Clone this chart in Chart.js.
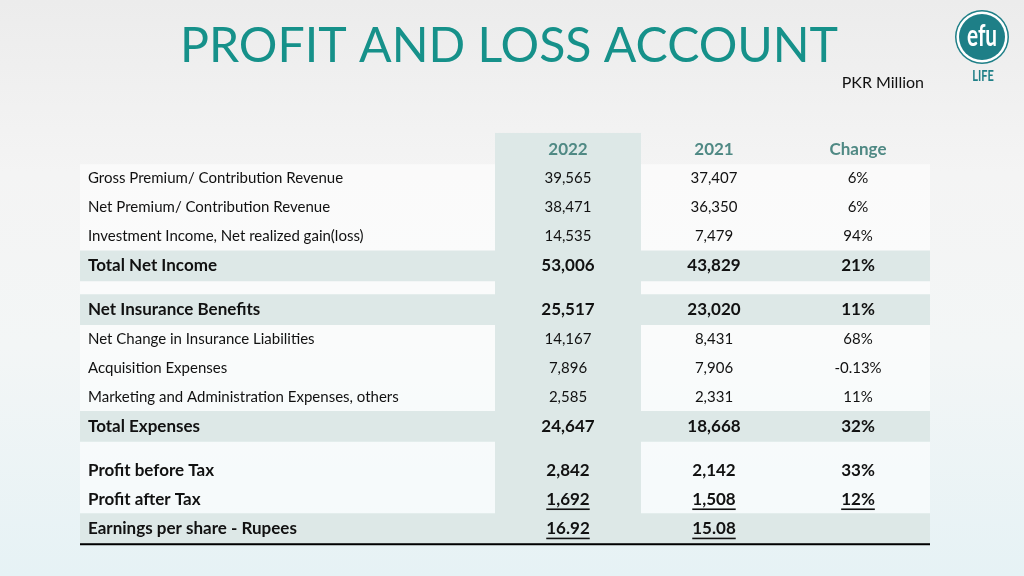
<!DOCTYPE html>
<html>
<head>
<meta charset="utf-8">
<script src="https://cdn.jsdelivr.net/npm/chart.js@4.4.1/dist/chart.umd.min.js"></script>
<style>
  html, body { margin: 0; padding: 0; width: 1024px; height: 576px; overflow: hidden; }
  body { background: linear-gradient(180deg, #ececec 0%, #f4f4f4 30%, #f3f6f6 60%, #e6f2f5 100%); }
  canvas { display: block; }
</style>
</head>
<body>
<canvas id="c" width="1024" height="576"></canvas>
<script>
// ---- data ----
const columnHeaders = ['2022', '2021', 'Change'];
const rowLabels = [
  'Gross Premium/ Contribution Revenue',
  'Net Premium/ Contribution Revenue',
  'Investment Income, Net realized gain(loss)',
  'Total Net Income',
  'Net Insurance Benefits',
  'Net Change in Insurance Liabilities',
  'Acquisition Expenses',
  'Marketing and Administration Expenses, others',
  'Total Expenses',
  'Profit before Tax',
  'Profit after Tax',
  'Earnings per share - Rupees'
];
const values2022 = [39565, 38471, 14535, 53006, 25517, 14167, 7896, 2585, 24647, 2842, 1692, 16.92];
const values2021 = [37407, 36350, 7479, 43829, 23020, 8431, 7906, 2331, 18668, 2142, 1508, 15.08];
const changePct  = [6, 6, 94, 21, 11, 68, -0.13, 11, 32, 33, 12, null];
const boldRows      = [0,0,0,1,1,0,0,0,1,1,1,1];
const shadedRows    = [0,0,0,1,1,0,0,0,1,0,0,1];
const underlineRows = [0,0,0,0,0,0,0,0,0,0,1,1];
const gapBefore     = [0,0,0,0,1,0,0,0,0,1,0,0];

// row positions (header = 0, one unit per row, half unit for spacer rows)
const rowPos = [];
{ let p = 0; rowLabels.forEach((_, i) => { p += gapBefore[i] ? 1.5 : 1; rowPos.push(p); }); }

// table column layout (x units = px across table)
const TABLE_W = 850;
const colCenters = [488, 634, 778];
const col2022 = [415, 561];
const LABEL_X = 8;

const SHADE = '#dde8e7';
const FONT = 'Lato, "Open Sans", sans-serif';

function fmt(v, i) {
  if (i === rowLabels.length - 1) return v.toFixed(2);
  return v.toLocaleString('en-US');
}
function fmtPct(v) { return v === null ? '' : (v + '%'); }

const shadeData = rowPos.map((p, i) => shadedRows[i] ? { y: p, x: [0, TABLE_W] } : null).filter(Boolean);

const backgroundPlugin = {
  id: 'bg',
  beforeDatasetsDraw(chart) {
    const { ctx, scales: { x, y } } = chart;
    ctx.save();
    // white body
    ctx.fillStyle = 'rgba(255,255,255,0.55)';
    ctx.fillRect(x.getPixelForValue(0), y.getPixelForValue(0.52), x.getPixelForValue(TABLE_W) - x.getPixelForValue(0),
      y.getPixelForValue(rowPos[rowPos.length - 1] + 0.5) - y.getPixelForValue(0.52));
    // 2022 column
    ctx.fillStyle = SHADE;
    const top = y.getPixelForValue(-0.55), bot = y.getPixelForValue(rowPos[rowPos.length - 1] + 0.5);
    ctx.fillRect(x.getPixelForValue(col2022[0]), top, x.getPixelForValue(col2022[1]) - x.getPixelForValue(col2022[0]), bot - top);
    ctx.restore();
  }
};

const textPlugin = {
  id: 'txt',
  afterDatasetsDraw(chart) {
    const { ctx, scales: { x, y } } = chart;
    ctx.save();
    ctx.textBaseline = 'middle';
    // headers
    ctx.fillStyle = '#4f8984';
    ctx.font = 'bold 17px ' + FONT;
    ctx.textAlign = 'center';
    columnHeaders.forEach((h, j) => ctx.fillText(h, x.getPixelForValue(colCenters[j]), y.getPixelForValue(0)));
    // rows
    rowLabels.forEach((lab, i) => {
      const py = y.getPixelForValue(rowPos[i]);
      const bold = boldRows[i];
      ctx.fillStyle = '#111';
      ctx.font = (bold ? 'bold 17px ' : '15px ') + FONT;
      ctx.textAlign = 'left';
      ctx.fillText(lab, x.getPixelForValue(LABEL_X), py);
      ctx.textAlign = 'center';
      const cells = [fmt(values2022[i], i), fmt(values2021[i], i), fmtPct(changePct[i])];
      cells.forEach((t, j) => {
        if (!t) return;
        const cx = x.getPixelForValue(colCenters[j]);
        ctx.fillText(t, cx, py);
        if (underlineRows[i]) {
          const w = ctx.measureText(t).width;
          ctx.fillRect(cx - w / 2, py + 9, w, 1.6);
        }
      });
    });
    // bottom rule
    ctx.fillStyle = '#000';
    const by = y.getPixelForValue(rowPos[rowPos.length - 1] + 0.5);
    ctx.fillRect(x.getPixelForValue(0), by, x.getPixelForValue(TABLE_W) - x.getPixelForValue(0), 2);

    // title
    ctx.textAlign = 'center';
    ctx.textBaseline = 'alphabetic';
    ctx.font = '49px ' + FONT;
    ctx.fillStyle = '#16918a';
    const title = 'PROFIT AND LOSS ACCOUNT';
    const tw = ctx.measureText(title).width;
    const target = 658;
    ctx.save();
    ctx.translate(509, 62);
    ctx.scale(Math.min(1, target / tw), 1);
    ctx.fillText(title, 0, 0);
    ctx.restore();
    // unit
    ctx.font = '16px ' + FONT;
    ctx.fillStyle = '#111';
    ctx.textAlign = 'right';
    ctx.fillText('PKR Million', 924, 88);

    // logo
    const lx = 982, ly = 37;
    ctx.beginPath(); ctx.arc(lx, ly, 27, 0, Math.PI * 2); ctx.fillStyle = '#1e7f87'; ctx.fill();
    ctx.beginPath(); ctx.arc(lx, ly, 25.5, 0, Math.PI * 2); ctx.fillStyle = '#ffffff'; ctx.fill();
    ctx.beginPath(); ctx.arc(lx, ly, 23, 0, Math.PI * 2); ctx.fillStyle = '#1e7f87'; ctx.fill();
    ctx.fillStyle = '#ffffff';
    ctx.textAlign = 'center';
    ctx.font = 'bold 26px ' + FONT;
    ctx.save();
    ctx.translate(lx, ly + 9);
    ctx.scale(0.8, 1.15);
    ctx.fillText('efu', 0, 0);
    ctx.restore();
    ctx.fillStyle = '#1e7f87';
    ctx.font = 'bold 13px ' + FONT;
    ctx.save();
    ctx.translate(lx + 1, 81);
    ctx.scale(0.85, 1.1);
    ctx.fillText('LIFE', 0, 0);
    ctx.restore();
    ctx.restore();
  }
};

new Chart(document.getElementById('c'), {
  type: 'bar',
  data: {
    datasets: [{
      label: 'shaded rows',
      data: shadeData,
      backgroundColor: SHADE,
      borderWidth: 0,
      barThickness: 30
    }]
  },
  options: {
    indexAxis: 'y',
    responsive: false,
    animation: false,
    devicePixelRatio: 1,
    layout: { padding: { left: 80, right: 94, top: 131.5, bottom: 31.3 } },
    scales: {
      x: { type: 'linear', min: 0, max: TABLE_W, display: false, offset: false, grace: 0 },
      y: { type: 'linear', min: -0.6, max: 13.55, reverse: true, display: false, offset: false, grace: 0 }
    },
    plugins: { legend: { display: false }, tooltip: { enabled: false }, title: { display: false } }
  },
  plugins: [backgroundPlugin, textPlugin]
});
</script>
</body>
</html>
